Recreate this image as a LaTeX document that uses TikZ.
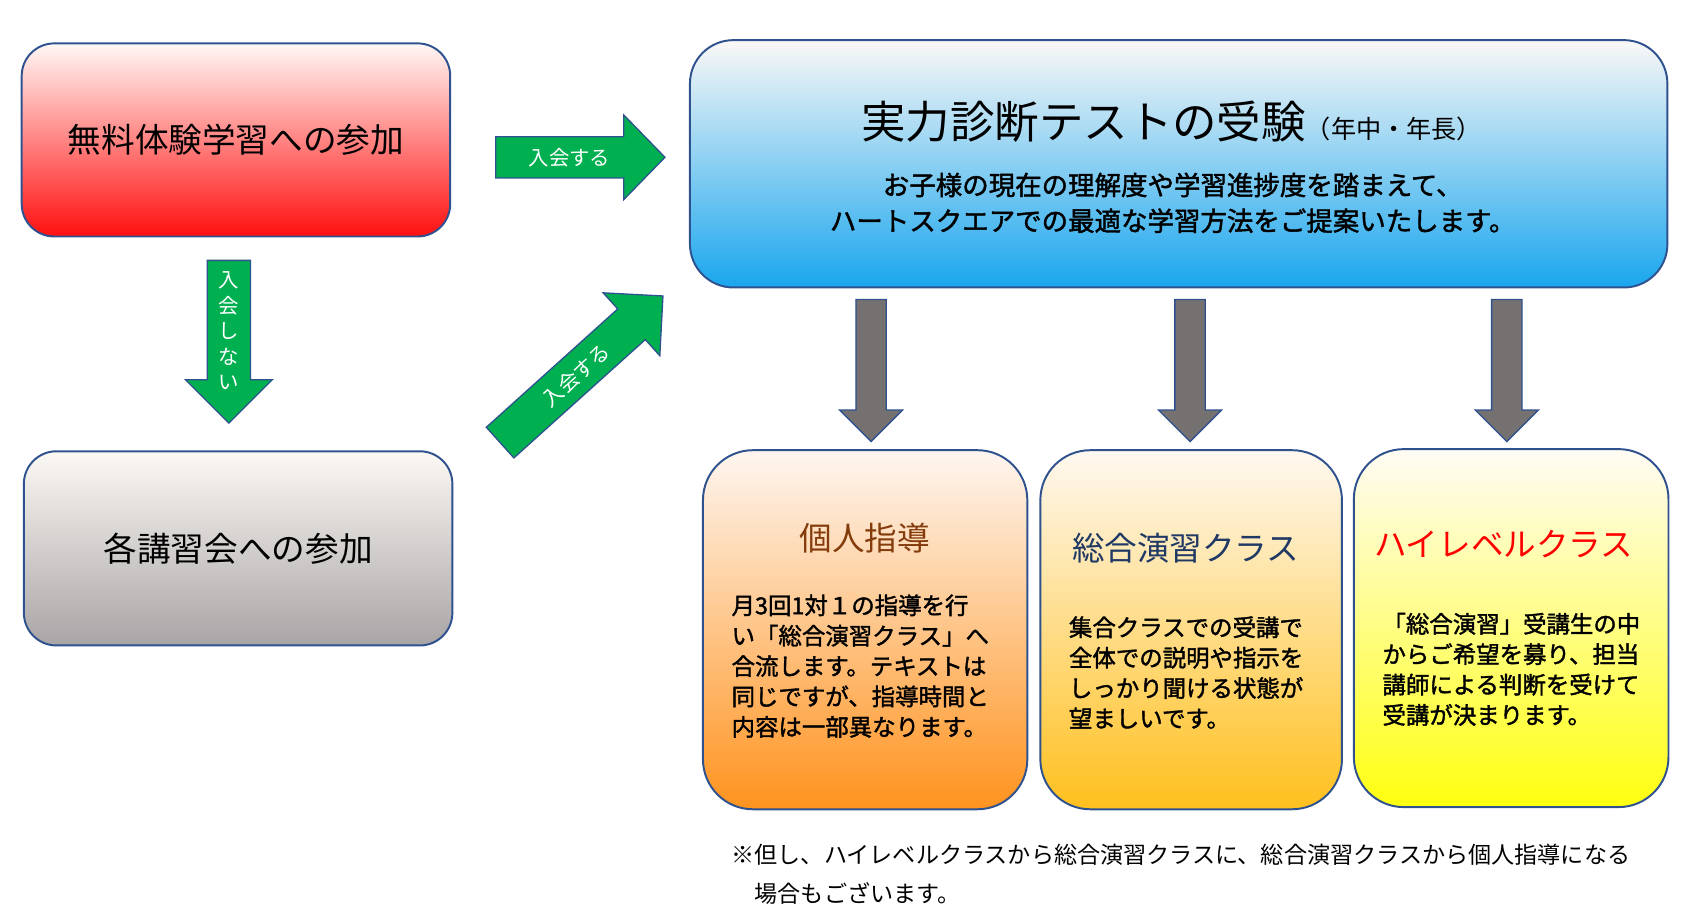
\documentclass[tikz,border=0pt]{standalone}
\usepackage{fontspec}
\setmainfont{Noto Sans CJK JP}
\newfontfamily\medcjk{Noto Sans CJK JP}[FakeBold=1.6]
\definecolor{bordc}{HTML}{2F528F}
\definecolor{greenc}{HTML}{00B050}
\definecolor{grayarr}{HTML}{767171}
\definecolor{brownt}{HTML}{843C0C}
\definecolor{navyt}{HTML}{1F3864}
\definecolor{redt}{HTML}{FF0000}
\newcommand{\blockarrow}[7]{%
  \path[#1, shift={#2}, rotate=#3] (0,-#5) -- ({#4-#7},-#5) -- ({#4-#7},-#6) -- (#4,0)
    -- ({#4-#7},#6) -- ({#4-#7},#5) -- (0,#5) -- cycle;}
\tikzset{
  rbox/.style={draw=bordc, line width=0.9pt, inner sep=0pt, shading=axis},
  greenarr/.style={fill=greenc, draw=bordc, line width=0.6pt},
  grayarrow/.style={fill=grayarr, draw=bordc, line width=0.6pt},
  arrlabel/.style={text=white, font=\fontsize{9.4}{11.75}\selectfont, inner sep=0pt},
  bigtxt/.style={font=\fontsize{15.5}{18}\selectfont},
  classtitle/.style={font=\fontsize{15}{18}\selectfont, inner sep=0pt},
  classbody/.style={font=\medcjk\fontsize{10.8}{14}\selectfont, align=left, inner sep=0pt, anchor=west},
}
\begin{document}
\begin{tikzpicture}[x=0.5pt,y=-0.5pt]
\useasboundingbox (0,0) rectangle (1568,849);

% top-left boxes
\node[rbox, rounded corners=15pt, minimum width=197.5pt, minimum height=89pt,
  top color={rgb,255:red,255;green,248;blue,245}, middle color={rgb,255:red,255;green,185;blue,185},
  bottom color={rgb,255:red,255;green,16;blue,16}, bigtxt] (free) at (217.5,129) {無料体験学習への参加};
\node[rbox, rounded corners=15pt, minimum width=197.5pt, minimum height=89.5pt,
  top color={rgb,255:red,252;green,248;blue,244}, middle color={rgb,255:red,216;green,212;blue,210},
  bottom color={rgb,255:red,169;green,165;blue,166}, bigtxt] (koshu) at (219.5,505.5) {各講習会への参加};

% main blue box
\node[rbox, rounded corners=20pt, minimum width=450.5pt, minimum height=114pt,
  top color={rgb,255:red,251;green,248;blue,246}, middle color={rgb,255:red,181;green,216;blue,242},
  bottom color={rgb,255:red,25;green,166;blue,238}] (test) at (1086.5,151) {};
\node[inner sep=0pt] (testtitle) at (1080,112)
  {\fontsize{20.5}{24}\selectfont 実力診断テストの受験\fontsize{11.6}{13}\selectfont （年中・年長）};
\node[inner sep=0pt, align=center, font=\medcjk\fontsize{12.2}{16.5}\selectfont] (testsub) at (1081,187)
  {お子様の現在の理解度や学習進捗度を踏まえて、\\ハートスクエアでの最適な学習方法をご提案いたします。};

% green arrows
\blockarrow{greenarr}{(457,145)}{0}{156}{19}{39}{38}
\node[arrlabel] (lab1) at (525,145) {入会する};
\blockarrow{greenarr}{(211,240)}{-90}{150}{20}{40}{40}
\node[arrlabel, align=center] (lab2) at (211,305) {入\\会\\し\\な\\い};
\blockarrow{greenarr}{(461,408)}{42}{202}{19}{39}{39}
\node[arrlabel, rotate=42] (lab3) at (531,346) {入会する};

% gray arrows
\blockarrow{grayarrow}{(803,276)}{-90}{131}{14}{29}{29}
\blockarrow{grayarrow}{(1097,276)}{-90}{131}{14}{29}{29}
\blockarrow{grayarrow}{(1389,276)}{-90}{131}{14}{29}{29}

% class boxes
\node[rbox, rounded corners=23pt, minimum width=149.5pt, minimum height=165.5pt,
  top color={rgb,255:red,254;green,246;blue,241}, middle color={rgb,255:red,255;green,200;blue,160},
  bottom color={rgb,255:red,255;green,147;blue,30}] (kojin) at (797.5,580.5) {};
\node[rbox, rounded corners=23pt, minimum width=139pt, minimum height=165.5pt,
  top color={rgb,255:red,254;green,248;blue,240}, middle color={rgb,255:red,255;green,226;blue,160},
  bottom color={rgb,255:red,255;green,192;blue,30}] (sogo) at (1098,580.5) {};
\node[rbox, rounded corners=23pt, minimum width=145pt, minimum height=165pt,
  top color={rgb,255:red,255;green,252;blue,245}, middle color={rgb,255:red,255;green,253;blue,176},
  bottom color={rgb,255:red,255;green,255;blue,16}] (high) at (1393,579) {};

\node[classtitle, text=brownt] (kojint) at (797,496) {個人指導};
\node[classtitle, text=navyt] (sogot) at (1093,505) {総合演習クラス};
\node[classtitle, text=redt] (hight) at (1386,502) {ハイレベルクラス};

\node[classbody] (kojinb) at (674,614) {月3回1対１の指導を行\\い「総合演習クラス」へ\\合流します。テキストは\\同じですが、指導時間と\\内容は一部異なります。};
\node[classbody] (sogob) at (985,620) {集合クラスでの受講で\\全体での説明や指示を\\しっかり聞ける状態が\\望ましいです。};
\node[classbody] (highb) at (1274,617) {「総合演習」受講生の中\\からご希望を募り、担当\\講師による判断を受けて\\受講が決まります。};

% footnote
\node[anchor=north west, align=left, inner sep=0pt, font=\fontsize{10.65}{18}\selectfont] (note) at (674,778)
  {※但し、ハイレベルクラスから総合演習クラスに、総合演習クラスから個人指導になる\\\hspace{1em}場合もございます。};
\end{tikzpicture}
\end{document}
